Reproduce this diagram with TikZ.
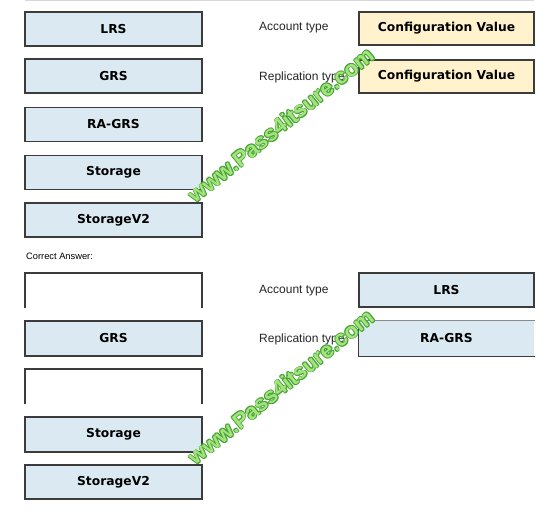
\documentclass[tikz,border=0pt]{standalone}
\usepackage{fontspec}
\setmainfont{Liberation Sans}
\newfontfamily\boxfont{DejaVu Sans}
\definecolor{boxblue}{RGB}{219,234,242}
\definecolor{boxcream}{RGB}{255,242,204}
\definecolor{boxedge}{RGB}{60,60,60}
\definecolor{wmfill}{RGB}{165,228,125}
\definecolor{wmedge}{RGB}{70,165,55}
\definecolor{topline}{RGB}{215,215,215}
\begin{document}
\begin{tikzpicture}[x=1pt,y=-1pt,
  choice/.style={draw=boxedge,line width=1.2pt,fill=boxblue,inner sep=0pt,
    font=\boxfont\bfseries\fontsize{12.3}{14}\selectfont},
  cfg/.style={choice,fill=boxcream},
  lbl/.style={anchor=west,inner sep=0pt,font=\fontsize{12}{14}\selectfont,text=black!85},
  wm/.style={rotate=39,inner sep=0pt,font=\bfseries\fontsize{22}{24}\selectfont}]
\useasboundingbox (0,0) rectangle (554,521);
\fill[white] (0,0) rectangle (554,521);
% top rule
\draw[topline,line width=1.5pt] (25,0.75) -- (534,0.75);
% question part
\node[choice,minimum width=177pt,minimum height=34pt] (q1) at (113.5,29) {LRS};
\node[choice,minimum width=177pt,minimum height=34pt] (q2) at (113.5,76) {GRS};
\node[choice,minimum width=177pt,minimum height=34pt] (q3) at (113.5,124.5) {RA-GRS};
\node[choice,minimum width=177pt,minimum height=34pt] (q4) at (113.5,172.5) {Storage};
\node[choice,minimum width=177pt,minimum height=34pt] (q5) at (113.5,220) {StorageV2};
\node[lbl] (la1) at (259,28) {Account type};
\node[lbl] (la2) at (259,77) {Replication type};
\node[cfg,minimum width=175pt,minimum height=33pt] (c1) at (446.5,28.5) {Configuration Value};
\node[cfg,minimum width=175pt,minimum height=33pt] (c2) at (446.5,76.5) {Configuration Value};
% answer part
\node[anchor=west,inner sep=0pt,font=\fontsize{9.3}{11}\selectfont] (ca) at (26,256) {Correct Answer:};
\coordinate (b1a) at (25,308); \coordinate (b1b) at (25,273);
\coordinate (b1c) at (202,273); \coordinate (b1d) at (202,308);
\draw[boxedge,line width=1.2pt] (b1a) -- (b1b) -- (b1c) -- (b1d);
\node[choice,minimum width=177pt,minimum height=35pt] (a2) at (113.5,338.5) {GRS};
\coordinate (b3a) at (25,404); \coordinate (b3b) at (25,369);
\coordinate (b3c) at (202,369); \coordinate (b3d) at (202,404);
\draw[boxedge,line width=1.2pt] (b3a) -- (b3b) -- (b3c) -- (b3d);
\node[choice,minimum width=177pt,minimum height=35pt] (a4) at (113.5,434.5) {Storage};
\node[choice,minimum width=177pt,minimum height=34pt] (a5) at (113.5,482) {StorageV2};
\node[lbl] (lb1) at (259,291) {Account type};
\node[lbl] (lb2) at (259,339) {Replication type};
\node[choice,minimum width=175pt,minimum height=34pt] (r1) at (446.5,290) {LRS};
\node[choice,draw=none,minimum width=175pt,minimum height=35pt] (r2) at (446.5,338.5) {RA-GRS};
\draw[boxedge!60,line width=1.2pt] (r2.north east) -- (r2.north west);
\draw[boxedge,line width=1.2pt] (r2.north west) -- (r2.south west) -- (r2.south east);
% watermarks (outlined green text)
\foreach \cy/\nm in {125/wA,387/wB}{
  \foreach \dx/\dy in {0.8/0,-0.8/0,0/0.8,0/-0.8,0.6/0.6,-0.6/0.6,0.6/-0.6,-0.6/-0.6}{
    \node[wm,text=wmedge] at (281+\dx,\cy+\dy) {www.Pass4itsure.com};
  }
  \node[wm,text=wmfill] (\nm) at (281,\cy) {www.Pass4itsure.com};
}
\end{tikzpicture}
\end{document}
